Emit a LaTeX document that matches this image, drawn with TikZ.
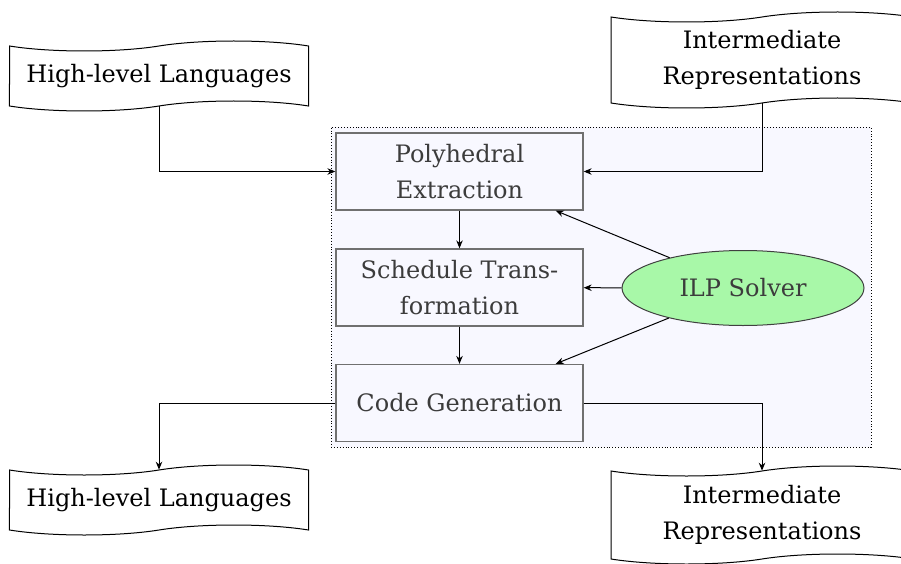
\documentclass[tikz,border=0pt]{standalone}
\usepackage{fontspec}
\setmainfont{DejaVu Serif}
\usetikzlibrary{shapes.symbols,shapes.geometric,arrows.meta,calc}
\definecolor{ghost}{RGB}{248,248,255}
\definecolor{ilpgreen}{RGB}{168,248,168}
\definecolor{frame}{RGB}{112,112,112}
\definecolor{softtext}{RGB}{60,60,60}
\begin{document}
\begin{tikzpicture}[x=1pt,y=-1pt,
  every node/.style={font=\fontsize{24}{36}\selectfont},
  tapebox/.style={tape, draw=black, line width=1pt, fill=white, align=center,
    minimum width=299pt, tape bend height=10pt, inner sep=0pt},
  stage/.style={rectangle, draw=frame, line width=1.3pt, fill=ghost, text=softtext,
    minimum width=247pt, minimum height=77pt, align=center, inner sep=2pt},
  solver/.style={ellipse, draw=black!75, line width=1pt, fill=ilpgreen, text=softtext,
    minimum width=242pt, minimum height=75pt, inner sep=0pt},
  container/.style={rectangle, draw=black, dotted, line width=0.9pt, fill=ghost,
    minimum width=540pt, minimum height=320pt, inner sep=0pt},
  arr/.style={-{Stealth[length=8pt,width=6.5pt]}, line width=1pt}]
\useasboundingbox (0,0) rectangle (901,564);
\node[container] (box) at (601,287) {};
\node[stage] (pe) at (459.5,171.5) {Polyhedral\\Extraction};
\node[stage] (st) at (459.5,287.5) {Schedule Trans-\\formation};
\node[stage] (cg) at (459.5,403) {Code Generation};
\node[solver] (ilp) at (743,288) {ILP Solver};
\node[tapebox, minimum height=70pt] (hl1) at (159,76) {High-level Languages};
\node[tapebox, minimum height=96pt, minimum width=302pt] (ir1) at (762,60) {Intermediate\\Representations};
\node[tapebox, minimum height=70pt] (hl2) at (159,500) {High-level Languages};
\node[tapebox, minimum height=98pt, minimum width=302pt] (ir2) at (762,515) {Intermediate\\Representations};
\coordinate (peTarget) at ($(pe.south east)+(-28,0)$);
\coordinate (cgTarget) at ($(cg.north east)+(-28,0)$);
\draw[arr] (hl1.south) |- (pe.west);
\draw[arr] (ir1.south) |- (pe.east);
\draw[arr] (pe) -- (st);
\draw[arr] (st) -- (cg);
\draw[arr] (ilp) -- (st);
\draw[arr] (ilp) -- (peTarget);
\draw[arr] (ilp) -- (cgTarget);
\draw[arr] (cg.west) -| (hl2.north);
\draw[arr] (cg.east) -| (ir2.north);
\end{tikzpicture}
\end{document}
